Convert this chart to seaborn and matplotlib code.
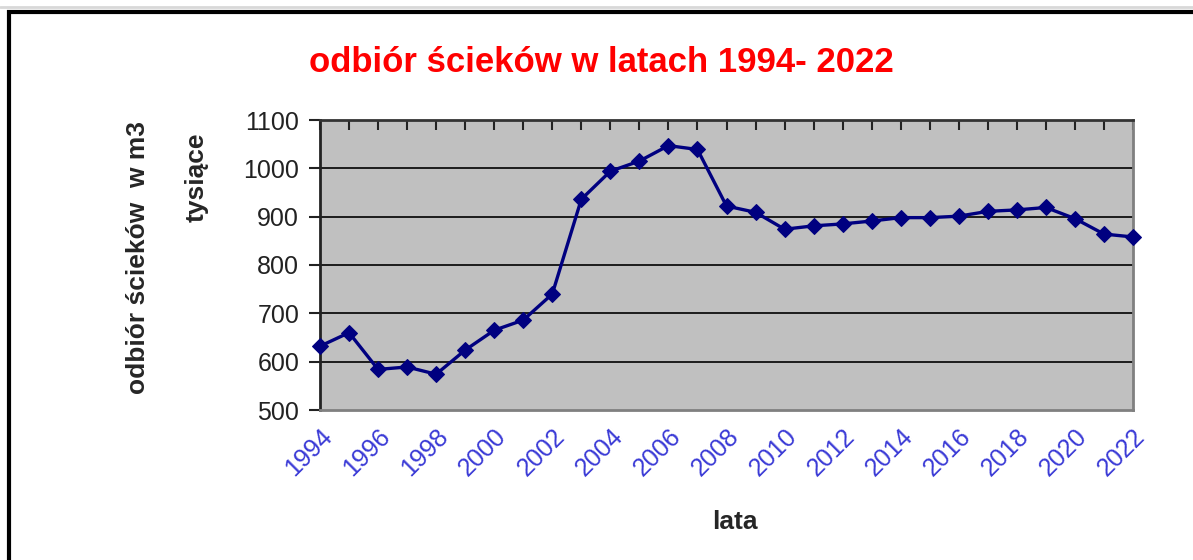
import matplotlib
matplotlib.use("Agg")
import matplotlib.pyplot as plt
import seaborn as sns
import pandas as pd
from matplotlib.patches import Rectangle
from matplotlib.lines import Line2D

# dane (tys. m3)
lata = [1994, 1995, 1996, 1997, 1998, 1999, 2000, 2001, 2002, 2003,
        2004, 2005, 2006, 2007, 2008, 2009, 2010, 2011, 2012, 2013,
        2014, 2015, 2016, 2017, 2018, 2019, 2020, 2021, 2022]
odbior = [632, 660, 584, 589, 574, 624, 665, 686, 740, 936,
          994, 1015, 1047, 1039, 922, 909, 874, 881, 885, 891,
          898, 898, 901, 911, 914, 919, 896, 864, 858]
y_ticks = [500, 600, 700, 800, 900, 1000, 1100]

tytul = "odbiór ścieków w latach 1994- 2022"
ylabel_1 = "odbiór ścieków  w m3"
ylabel_2 = "tysiące"
xlabel = "lata"

df = pd.DataFrame({"rok": lata, "wartosc": odbior})

sns.set_style("white")
plt.rcParams["font.family"] = ["Liberation Sans", "DejaVu Sans"]

fig = plt.figure(figsize=(11.93, 5.6), dpi=100)
ax = fig.add_axes([320 / 1193, 150 / 560, 813 / 1193, 290 / 560])
ax.set_facecolor("#c0c0c0")

sns.lineplot(data=df, x="rok", y="wartosc", ax=ax, color="#000080",
             linewidth=2.4, marker="D", markersize=8,
             markeredgecolor="#000080", clip_on=False, zorder=5)

ax.set_xlim(lata[0], lata[-1])
ax.set_ylim(y_ticks[0], y_ticks[-1])
ax.set_yticks(y_ticks)
ax.set_yticklabels([str(v) for v in y_ticks], fontsize=18, color="#222222")
for v in y_ticks[1:-1]:
    ax.axhline(v, color="black", linewidth=1.2, zorder=1)

ax.set_xticks(lata)
ax.set_xticklabels([str(r) if (r - lata[0]) % 2 == 0 else "" for r in lata],
                   rotation=45, ha="right", rotation_mode="anchor",
                   fontsize=18, color="#3a3ad6")
ax.tick_params(axis="x", bottom=False, top=True, direction="in",
               length=7, width=1.5, color="#222222", labelbottom=True, pad=10)
ax.tick_params(axis="y", left=True, direction="out", length=8,
               width=1.5, color="#222222", pad=7)

ax.set_xlabel("")
ax.set_ylabel("")
ax.spines["left"].set_color("#222222")
ax.spines["top"].set_color("#333333")
ax.spines["right"].set_color("#808080")
ax.spines["bottom"].set_color("#808080")
for s in ax.spines.values():
    s.set_linewidth(2)

fig.text(601 / 1193, 1 - 62 / 560, tytul, color="red", fontsize=25,
         fontweight="bold", ha="center", va="center")
fig.text(138 / 1193, 1 - 258 / 560, ylabel_1, rotation=90, fontsize=19,
         fontweight="bold", ha="center", va="center")
fig.text(197 / 1193, 1 - 177 / 560, ylabel_2, rotation=90, fontsize=19,
         fontweight="bold", ha="center", va="center")
fig.text(735 / 1193, 1 - 522 / 560, xlabel, fontsize=19,
         fontweight="bold", ha="center", va="center")

# ramka wykresu
fig.add_artist(Rectangle((9 / 1193, -0.2), 1.2, 1.2 - 12 / 560,
                         transform=fig.transFigure, fill=False,
                         edgecolor="black", linewidth=3))
fig.add_artist(Line2D([0, 1], [1 - 7 / 560, 1 - 7 / 560],
                      transform=fig.transFigure, color="#d8d8d8", linewidth=2))

fig.savefig("out.png", dpi=100)
